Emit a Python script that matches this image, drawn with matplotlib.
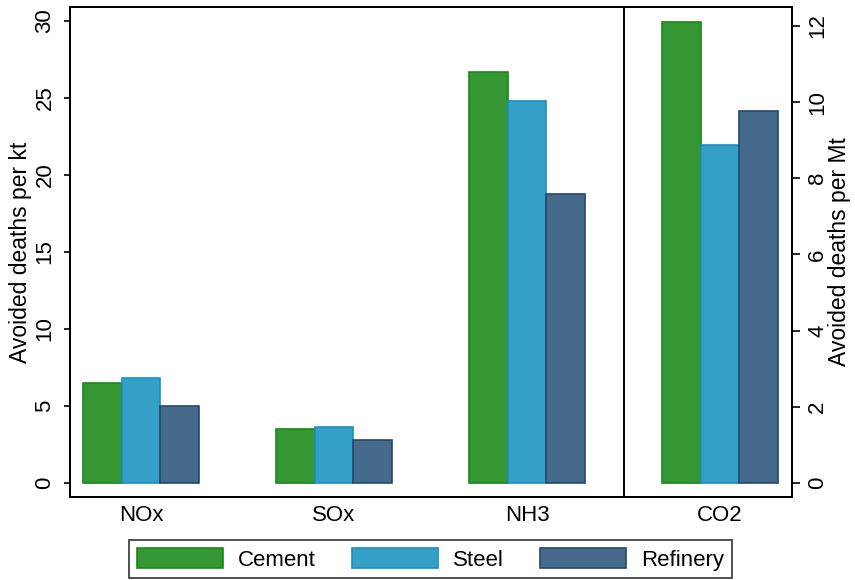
"""
avoided deaths per unit of emission, by sector
"""

import numpy as np
import matplotlib.pyplot as plt
from matplotlib.patches import Patch

plt.rcParams["font.family"] = ["Liberation Sans", "DejaVu Sans"]

# pollutants on the left axis (per kt), CO2 on the right axis (per Mt)
pollutants = ["NOx", "SOx", "NH3", "CO2"]
sectors = ["Cement", "Steel", "Refinery"]
cement = [6.47, 3.49, 26.7]
steel = [6.8, 3.66, 24.8]
refinery = [5.02, 2.8, 18.76]
co2 = [12.11, 8.88, 9.78]

face = ["#359734", "#34a0c8", "#466a8c"]
edge = ["#178a17", "#1a90c0", "#25496c"]

fig = plt.figure(figsize=(8.55, 5.8), dpi=100)
ax = fig.add_axes([0.0819, 0.1431, 0.8444, 0.8449])
ax2 = ax.twinx()

width = 0.2
offsets = [-width, 0, width]
x = np.arange(3)
for i, vals in enumerate([cement, steel, refinery]):
    ax.bar(x + offsets[i], vals, width, color=face[i], edgecolor=edge[i],
           linewidth=1.2)
    ax2.bar(3 + offsets[i], co2[i], width, color=face[i], edgecolor=edge[i],
            linewidth=1.2)

ax.axvline(2.5, color="black", linewidth=1.4)
ax.set_xlim(-0.368, 3.373)
ax.set_ylim(-0.91, 30.9)
ax2.set_ylim(-0.37, 12.5)

ax.set_xticks(range(4))
ax.set_xticklabels(pollutants, fontsize=16)
ax.tick_params(axis="x", length=0, pad=6)
ax.set_yticks(range(0, 31, 5))
ax.tick_params(axis="y", labelsize=16, length=4.5, width=1.2,
               labelrotation=90, pad=6)
for lab in ax.get_yticklabels():
    lab.set_va("center")
ax2.set_yticks(range(0, 13, 2))
ax2.tick_params(axis="y", labelsize=16, length=6, width=1.2,
                labelrotation=90, pad=5)
for lab in ax2.get_yticklabels():
    lab.set_va("center")

ax.set_ylabel("Avoided deaths per kt", fontsize=16.5, labelpad=2)
ax2.set_ylabel("Avoided deaths per Mt", fontsize=16.5, rotation=90,
               labelpad=0)

for a in (ax, ax2):
    for s in a.spines.values():
        s.set_linewidth(1.4)

handles = [Patch(facecolor=face[i], edgecolor=edge[i], linewidth=1.2,
                 label=sectors[i]) for i in range(3)]
leg = fig.legend(handles=handles, loc="upper center", ncol=3,
                 bbox_to_anchor=(0.5035, 1 - 540 / 580), fontsize=16,
                 frameon=True, fancybox=False, edgecolor="black",
                 handlelength=3.87, handleheight=1.04, columnspacing=1.6,
                 handletextpad=0.7, borderpad=0.35, borderaxespad=0)
leg.get_frame().set_linewidth(1.2)

fig.savefig("out.png", dpi=100)
